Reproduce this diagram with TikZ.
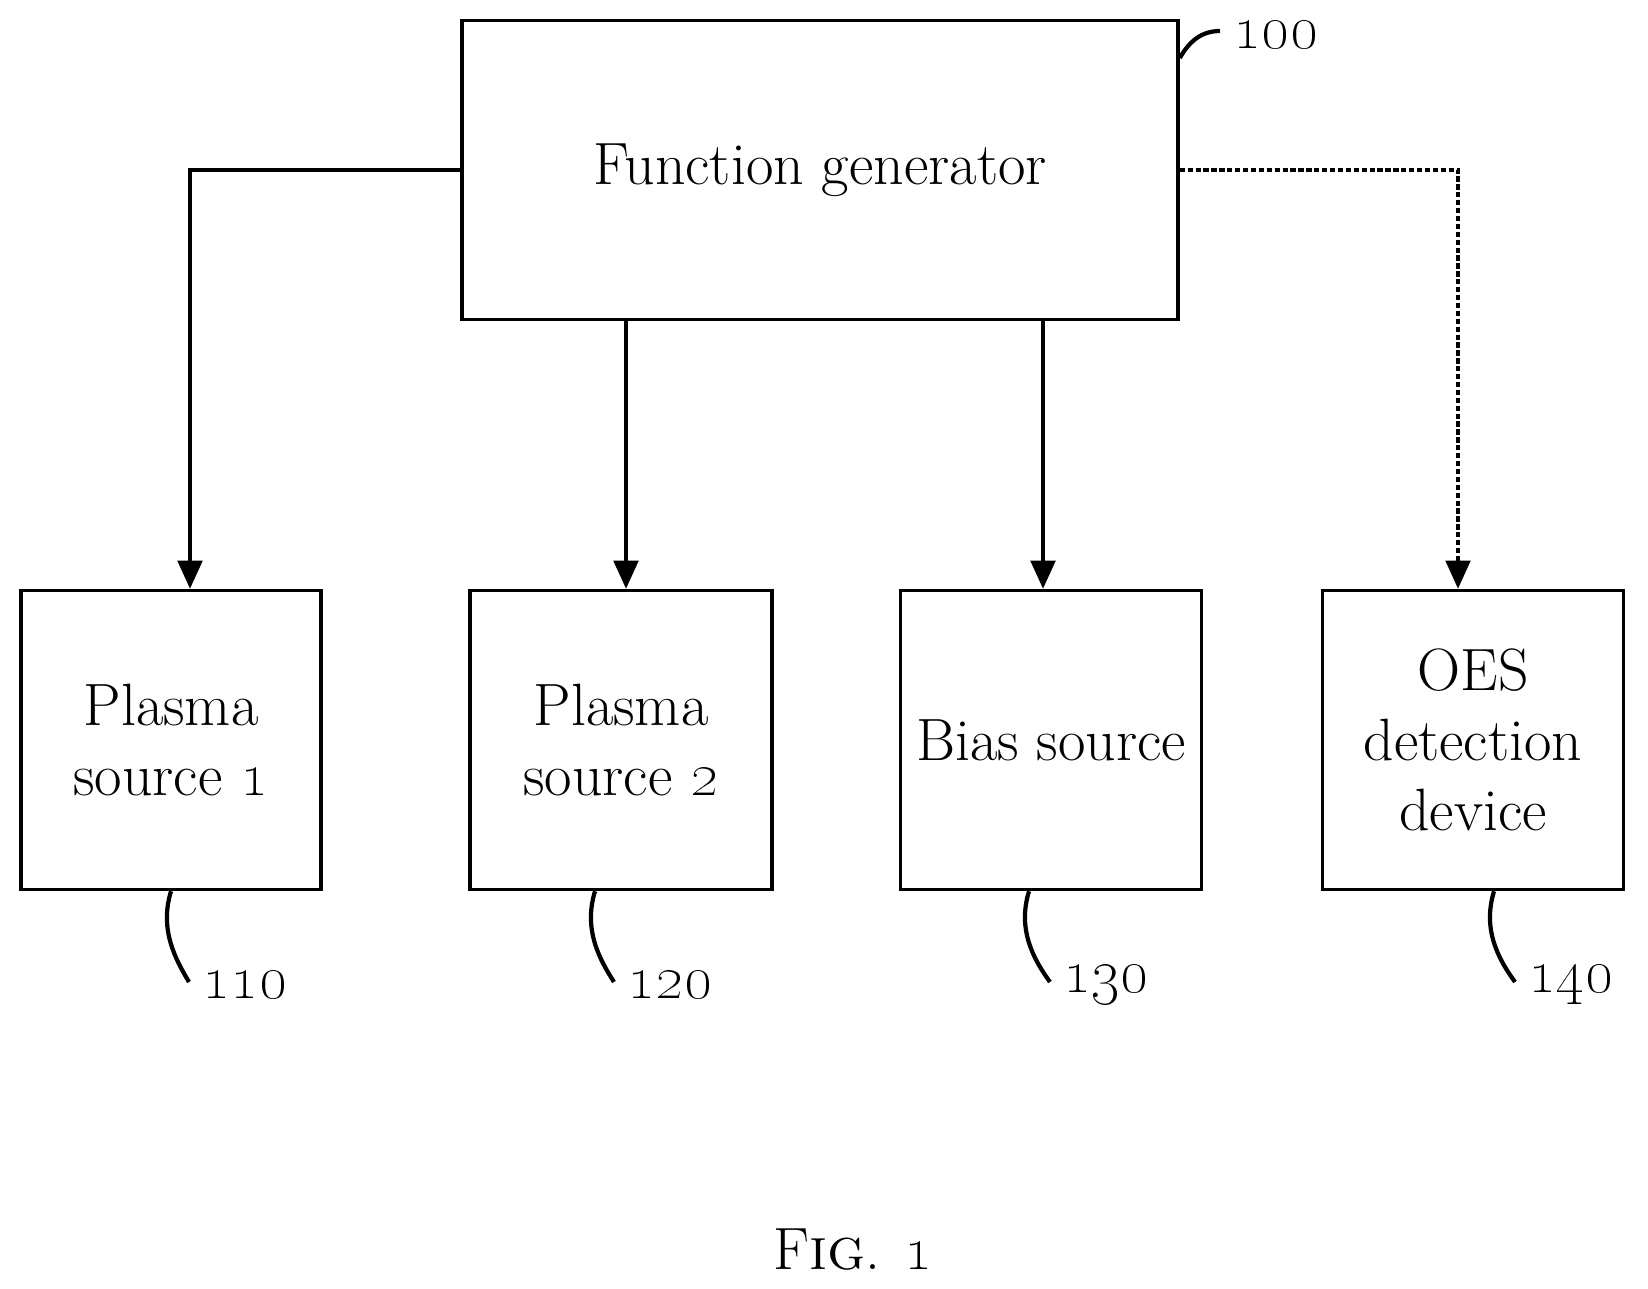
\documentclass[tikz,border=0pt]{standalone}
\usepackage{amsmath}
\usepackage{tikz}
\usetikzlibrary{arrows.meta}

\begin{document}
\begin{tikzpicture}[x=0.02cm,y=-0.02cm,line width=2pt,
    blk/.style={draw, rectangle, inner sep=0pt, align=center, font=\fontsize{34}{40}\selectfont},
    num/.style={font=\fontsize{36}{40}\selectfont, inner sep=0pt, anchor=west},
    conn/.style={-{Triangle[length=16pt,width=14pt]}},
    lead/.style={line width=2.4pt}]
    \useasboundingbox (0,0) rectangle (1648,1288);
    \node[blk, minimum width=716*0.02cm, minimum height=299*0.02cm] (gen) at (820,170) {Function generator};
    \node[blk, minimum width=300*0.02cm, minimum height=299*0.02cm] (ps1) at (171,740) {Plasma\\source \oldstylenums{1}};
    \node[blk, minimum width=302*0.02cm, minimum height=299*0.02cm] (ps2) at (621,740) {Plasma\\source \oldstylenums{2}};
    \node[blk, minimum width=301*0.02cm, minimum height=299*0.02cm] (bias) at (1051,740) {Bias source};
    \node[blk, minimum width=301*0.02cm, minimum height=299*0.02cm] (oes) at (1473,740) {OES\\detection\\device};

    \draw[conn] (gen.west) -| (ps1.north-|190,0);
    \draw[conn] (gen.south-|626,0) -- (ps2.north-|626,0);
    \draw[conn] (gen.south-|1043,0) -- (bias.north-|1043,0);
    \draw[conn, dashed, dash pattern=on 3pt off 1.5pt, line width=1.8pt] (gen.east) -| (oes.north-|1458,0);

    % reference numerals
    \coordinate (g1) at (1220,31);
    \node[num] (n100) at (1232,35) {\oldstylenums{100}};
    \draw[lead] (gen.north east|-0,58) to[out=60,in=180] (g1);
    \foreach \bx/\tx/\lbl/\nm in {171/189/110/ps1, 595/614/120/ps2, 1029/1050/130/bias, 1494/1515/140/oes}{
        \coordinate (s\lbl) at (\tx,982);
        \draw[lead] (\nm.south-|\bx,0) .. controls (\bx-12,930) and (\bx+5,960) .. (s\lbl);
        \node[num] (n\lbl) at (\tx+12,985) {\oldstylenums{\lbl}};
    }
    \node[font=\fontsize{34}{40}\selectfont] (fig) at (853,1250) {F\textsc{ig}. \oldstylenums{1}};
\end{tikzpicture}
\end{document}
